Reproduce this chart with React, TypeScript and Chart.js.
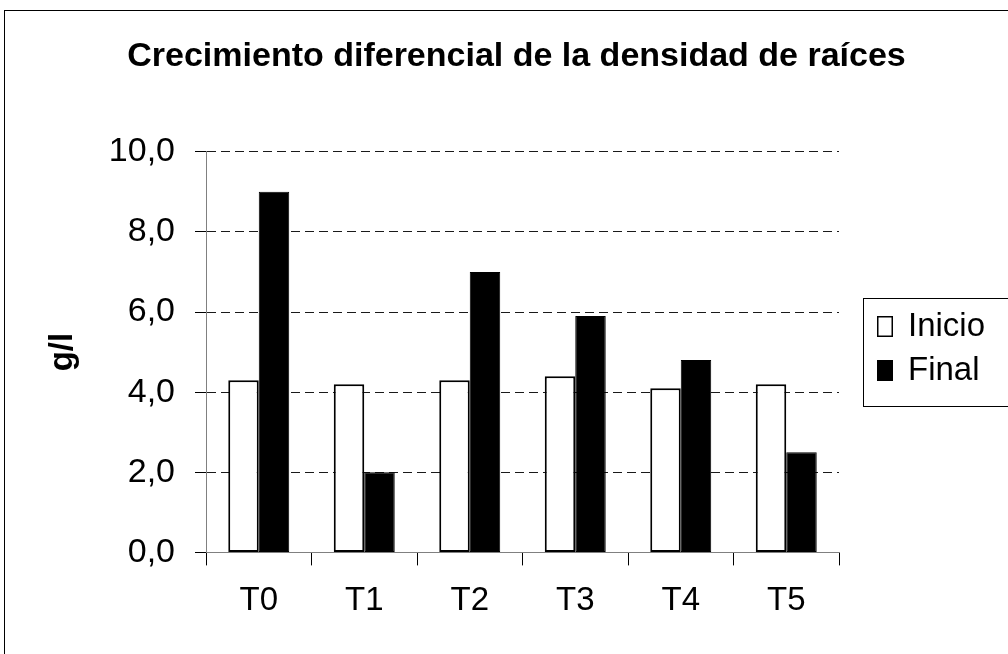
import React, { useEffect, useRef } from "react";
import { Chart, registerables } from "chart.js";

Chart.register(...registerables);

const categories: string[] = ["T0", "T1", "T2", "T3", "T4", "T5"];
const inicioValues: number[] = [4.3, 4.2, 4.3, 4.4, 4.1, 4.2];
const finalValues: number[] = [9.0, 2.0, 7.0, 5.9, 4.8, 2.5];
const seriesLabels: string[] = ["Inicio", "Final"];
const chartTitle = "Crecimiento diferencial de la densidad de raíces";
const yAxisTitle = "g/l";
const yMin = 0;
const yMax = 10;
const yStep = 2;

const FAMILY = "'Liberation Sans', Arial, Helvetica, sans-serif";
const CANVAS_W = 1033;
const CANVAS_H = 654;

const framePlugin = {
  id: "frame",
  beforeDraw(chart: any) {
    const { ctx } = chart;
    ctx.save();
    ctx.fillStyle = "#ffffff";
    ctx.fillRect(0, 0, chart.width, chart.height);
    ctx.strokeStyle = "#000000";
    ctx.lineWidth = 1;
    ctx.strokeRect(4.5, 10.5, 1200, 800);
    ctx.restore();
  },
};

const legendBoxPlugin = {
  id: "legendBox",
  afterDraw(chart: any) {
    const { ctx, chartArea } = chart;
    const mid = (chartArea.top + chartArea.bottom) / 2;
    const x0 = Math.round(chartArea.right + 24);
    ctx.save();
    ctx.strokeStyle = "#000000";
    ctx.lineWidth = 1;
    ctx.strokeRect(x0 + 0.5, Math.round(mid - 54) + 0.5, 400, 108);
    chart.data.datasets.forEach((ds: any, i: number) => {
      const cy = Math.round(mid - 26 + i * 44);
      ctx.fillStyle = ds.backgroundColor;
      ctx.fillRect(x0 + 14, cy - 10, 16, 21);
      ctx.strokeStyle = "#000000";
      ctx.lineWidth = 1.5;
      ctx.strokeRect(x0 + 14.75, cy - 9.25, 14.5, 19.5);
      ctx.fillStyle = "#000000";
      ctx.font = `33px ${FAMILY}`;
      ctx.textBaseline = "middle";
      ctx.textAlign = "left";
      ctx.fillText(ds.label, x0 + 45, cy + 1);
    });
    ctx.restore();
  },
};

export default function App() {
  const canvasRef = useRef<HTMLCanvasElement | null>(null);

  useEffect(() => {
    if (!canvasRef.current) return;
    const chart = new Chart(canvasRef.current, {
      type: "bar",
      data: {
        labels: categories,
        datasets: [
          {
            label: seriesLabels[0],
            data: inicioValues,
            backgroundColor: "#ffffff",
            borderColor: "#000000",
            borderWidth: 2,
            borderSkipped: false,
            categoryPercentage: 0.578,
            barPercentage: 1,
          },
          {
            label: seriesLabels[1],
            data: finalValues,
            backgroundColor: "#000000",
            borderColor: "#000000",
            borderWidth: 1,
            borderSkipped: false,
            categoryPercentage: 0.578,
            barPercentage: 1,
          },
        ],
      },
      options: {
        responsive: false,
        animation: false,
        devicePixelRatio: 1,
        layout: { padding: { left: 10, top: 10, right: 10, bottom: 17 } },
        plugins: {
          legend: { display: false },
          tooltip: { enabled: false },
          title: {
            display: true,
            text: chartTitle,
            color: "#000000",
            font: { family: FAMILY, size: 34, weight: "bold" },
            padding: { top: 26, bottom: 75 },
          },
        },
        scales: {
          x: {
            grid: {
              drawOnChartArea: false,
              offset: true,
              tickLength: 13,
              tickColor: "#000000",
              color: "#000000",
            },
            border: { color: "#808080", width: 1 },
            ticks: {
              color: "#000000",
              font: { family: FAMILY, size: 33 },
              padding: 16,
            },
          },
          y: {
            min: yMin,
            max: yMax,
            ticks: {
              stepSize: yStep,
              color: "#000000",
              font: { family: FAMILY, size: 34 },
              padding: 20,
              callback: (v: any) => Number(v).toFixed(1).replace(".", ","),
            },
            grid: {
              color: (c: any) => (c.tick && c.tick.value === 0 ? "rgba(0,0,0,0)" : "#1a1a1a"),
              tickColor: "#000000",
              tickLength: 11,
              tickBorderDash: [],
              lineWidth: 1,
            },
            border: { color: "#808080", width: 1, dash: [9, 5] },
            title: {
              display: true,
              text: yAxisTitle,
              color: "#000000",
              font: { family: FAMILY, size: 33, weight: "bold" },
              padding: { top: 33, bottom: 0 },
            },
            afterFit: (s: any) => {
              s.width = 196;
            },
          },
          y2: {
            position: "right",
            display: true,
            grid: { display: false },
            border: { display: false },
            ticks: { display: false },
            afterFit: (s: any) => {
              s.width = 184;
            },
          },
        },
      },
      plugins: [framePlugin, legendBoxPlugin],
    } as any);
    return () => chart.destroy();
  }, []);

  return (
    <div
      style={{
        position: "fixed",
        left: 0,
        top: 0,
        width: 1008,
        height: 654,
        overflow: "hidden",
        background: "#ffffff",
      }}
    >
      <canvas
        ref={canvasRef}
        width={CANVAS_W}
        height={CANVAS_H}
        style={{ display: "block", width: CANVAS_W, height: CANVAS_H }}
      />
    </div>
  );
}
